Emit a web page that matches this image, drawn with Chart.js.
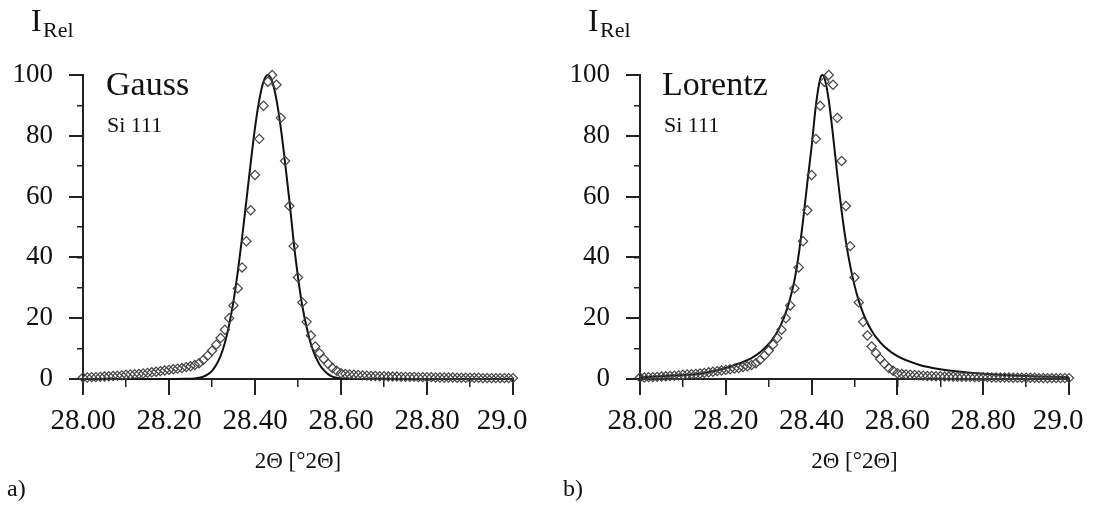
<!DOCTYPE html>
<html>
<head>
<meta charset="utf-8">
<script src="https://cdn.jsdelivr.net/npm/chart.js@4.4.1/dist/chart.umd.min.js"></script>
<style>
  body { margin: 0; background: #fff; }
  #wrap { position: relative; width: 1093px; height: 507px; overflow: hidden; }
  canvas { position: absolute; top: 0; }
  .lbl { position: absolute; font-family: "Liberation Serif", serif; line-height: 1; color: #111; white-space: nowrap; }
</style>
</head>
<body>
<div id="wrap">
  <canvas id="chartA" width="546" height="507" style="left:0"></canvas>
  <canvas id="chartB" width="547" height="507" style="left:546px"></canvas>

  <div class="lbl" style="left:31px;top:4px;font-size:32px">I</div>
  <div class="lbl" style="left:43px;top:19px;font-size:22px">Rel</div>
  <div class="lbl" style="left:106px;top:67px;font-size:34px">Gauss</div>
  <div class="lbl" style="left:107px;top:114px;font-size:22px">Si 111</div>
  <div class="lbl" style="left:7px;top:476px;font-size:24px">a)</div>

  <div class="lbl" style="left:588px;top:4px;font-size:32px">I</div>
  <div class="lbl" style="left:600px;top:19px;font-size:22px">Rel</div>
  <div class="lbl" style="left:662px;top:67px;font-size:34px">Lorentz</div>
  <div class="lbl" style="left:664px;top:114px;font-size:22px">Si 111</div>
  <div class="lbl" style="left:563px;top:476px;font-size:24px">b)</div>
</div>

<script>
// measured Si 111 profile (same in both panels)
const twoTheta = [
  28.00, 28.01, 28.02, 28.03, 28.04, 28.05, 28.06, 28.07, 28.08, 28.09,
  28.10, 28.11, 28.12, 28.13, 28.14, 28.15, 28.16, 28.17, 28.18, 28.19,
  28.20, 28.21, 28.22, 28.23, 28.24, 28.25, 28.26, 28.27, 28.28, 28.29,
  28.30, 28.31, 28.32, 28.33, 28.34, 28.35, 28.36, 28.37, 28.38, 28.39,
  28.40, 28.41, 28.42, 28.43, 28.44, 28.45, 28.46, 28.47, 28.48, 28.49,
  28.50, 28.51, 28.52, 28.53, 28.54, 28.55, 28.56, 28.57, 28.58, 28.59,
  28.60, 28.61, 28.62, 28.63, 28.64, 28.65, 28.66, 28.67, 28.68, 28.69,
  28.70, 28.71, 28.72, 28.73, 28.74, 28.75, 28.76, 28.77, 28.78, 28.79,
  28.80, 28.81, 28.82, 28.83, 28.84, 28.85, 28.86, 28.87, 28.88, 28.89,
  28.90, 28.91, 28.92, 28.93, 28.94, 28.95, 28.96, 28.97, 28.98, 28.99, 29.00
];
const measured = [
  0.5, 0.5, 0.6, 0.6, 0.7, 0.8, 0.9, 1.0, 1.1, 1.2,
  1.4, 1.5, 1.6, 1.7, 1.8, 2.0, 2.2, 2.4, 2.6, 2.8,
  3.0, 3.2, 3.4, 3.6, 3.9, 4.2, 4.6, 5.2, 6.3, 7.7,
  9.3, 11.3, 13.5, 16.2, 20.0, 24.2, 29.8, 36.7, 45.3, 55.5,
  67.1, 79.0, 89.9, 97.8, 100, 96.8, 85.9, 71.7, 56.9, 43.7,
  33.4, 25.2, 18.8, 14.3, 10.7, 8.5, 6.6, 5.0, 3.6, 2.7,
  1.9, 1.7, 1.5, 1.4, 1.3, 1.2, 1.1, 1.0, 1.0, 0.9,
  0.9, 0.8, 0.8, 0.8, 0.7, 0.7, 0.7, 0.7, 0.6, 0.6,
  0.6, 0.6, 0.5, 0.5, 0.5, 0.5, 0.5, 0.4, 0.4, 0.4,
  0.4, 0.4, 0.4, 0.3, 0.3, 0.3, 0.3, 0.3, 0.3, 0.3, 0.3
];

// fitted Gauss curve (panel a)
const gaussX = [
  28.00, 28.10, 28.20, 28.24, 28.26, 28.27, 28.28, 28.29, 28.30, 28.31,
  28.32, 28.33, 28.34, 28.35, 28.36, 28.37, 28.38, 28.39, 28.40, 28.41,
  28.42, 28.43, 28.44, 28.45, 28.46, 28.47, 28.48, 28.49, 28.50, 28.51,
  28.52, 28.53, 28.54, 28.55, 28.56, 28.57, 28.58, 28.59, 28.60, 28.62,
  28.66, 28.70, 28.80, 29.00
];
const gaussY = [
  0, 0, 0, 0.05, 0.2, 0.4, 0.8, 1.5, 2.7, 4.7,
  7.6, 11.9, 17.9, 25.6, 35.3, 46.5, 58.7, 71.1, 82.6, 91.8,
  97.9, 100, 97.9, 91.8, 82.6, 71.1, 58.7, 45, 33.5, 24,
  17, 11.5, 7.6, 4.8, 2.9, 1.6, 0.8, 0.4, 0.2, 0.05,
  0, 0, 0, 0
];

// fitted Lorentz curve (panel b)
const lorentzX = [
  28.00, 28.05, 28.10, 28.15, 28.20, 28.22, 28.24, 28.26, 28.28, 28.30,
  28.31, 28.32, 28.33, 28.34, 28.35, 28.36, 28.37, 28.38, 28.39, 28.40,
  28.41, 28.42, 28.425, 28.43, 28.44, 28.45, 28.46, 28.47, 28.48, 28.49,
  28.50, 28.51, 28.52, 28.53, 28.54, 28.55, 28.57, 28.60, 28.65, 28.70,
  28.80, 28.90, 29.00
];
const lorentzY = [
  0.6, 0.9, 1.3, 2.0, 3.6, 4.6, 5.6, 6.9, 8.8, 11.5,
  13.3, 15.5, 18.3, 21.9, 26.5, 32.4, 41, 52, 64.5, 76.4,
  90.0, 98.8, 100, 99.0, 91.7, 80, 67.1, 55.2, 45.2, 37.2,
  30.8, 25.7, 21.7, 18.5, 15.9, 13.8, 10.6, 7.5, 4.7, 3.2,
  1.7, 1.0, 0.6
];

// last label sits a little left of its tick in the original
const xTickLabels = ["28.00", "28.20", "28.40", "28.60", "28.80", "29.0   "];
const yTickLabels = ["0", "20", "40", "60", "80", "100"];
const xTitle = "2\u0398 [\u00b02\u0398]";

const serif = "'Liberation Serif', serif";

function toPoints(xs, ys) {
  return xs.map((x, i) => ({ x: x, y: ys[i] }));
}

function makeChart(id, fitX, fitY, axisWidth, padRight) {
  return new Chart(document.getElementById(id), {
    type: "scatter",
    data: {
      datasets: [
        {
          data: toPoints(twoTheta, measured),
          xAxisID: "x",
          yAxisID: "y",
          pointStyle: "rectRot",
          pointRadius: 4.6,
          pointBorderWidth: 1.2,
          borderColor: "#444",
          backgroundColor: "rgba(0,0,0,0)",
          showLine: false,
          clip: false,
        },
        {
          data: toPoints(fitX, fitY),
          xAxisID: "x",
          yAxisID: "y",
          showLine: true,
          pointRadius: 0,
          borderColor: "#111",
          borderWidth: 2,
          cubicInterpolationMode: "monotone",
          clip: false,
        },
      ],
    },
    options: {
      responsive: false,
      animation: false,
      events: [],
      layout: { padding: { left: 0, right: padRight, top: 75, bottom: 31 } },
      plugins: { legend: { display: false }, tooltip: { enabled: false } },
      scales: {
        x: {
          type: "linear",
          position: "bottom",
          min: 28,
          max: 29,
          afterFit: (s) => {
            s.height = 97;
            // keep the plot box fixed, labels may overhang
            s.paddingLeft = 0;
            s.paddingRight = 0;
          },
          ticks: {
            stepSize: 0.2,
            autoSkip: false,
            maxRotation: 0,
            padding: 9,
            color: "#111",
            font: { family: serif, size: 29 },
            callback: (v, i) => xTickLabels[i],
          },
          grid: { drawOnChartArea: false, tickLength: 16, color: "#222", lineWidth: 2 },
          border: { color: "#222", width: 2 },
          title: {
            display: true,
            text: xTitle,
            color: "#111",
            font: { family: serif, size: 23 },
            padding: { top: 0, bottom: 0 },
          },
        },
        y: {
          type: "linear",
          position: "left",
          min: 0,
          max: 100,
          afterFit: (s) => {
            s.width = axisWidth;
            s.paddingTop = 0;
            s.paddingBottom = 0;
          },
          ticks: {
            stepSize: 20,
            padding: 16,
            color: "#111",
            font: { family: serif, size: 27 },
            callback: (v, i) => yTickLabels[i],
          },
          grid: { drawOnChartArea: false, tickLength: 14, color: "#222", lineWidth: 2 },
          border: { color: "#222", width: 2 },
        },
        // minor tick marks
        x2: {
          type: "linear",
          position: { y: 0 },
          min: 28,
          max: 29,
          ticks: { stepSize: 0.1, display: false },
          grid: { drawOnChartArea: false, tickLength: 8, color: "#222", lineWidth: 1.5 },
          border: { display: false },
        },
        y2: {
          type: "linear",
          position: { x: 28 },
          min: 0,
          max: 100,
          ticks: { stepSize: 10, display: false },
          grid: { drawOnChartArea: false, tickLength: 6, color: "#222", lineWidth: 1.5 },
          border: { display: false },
        },
      },
    },
  });
}

makeChart("chartA", gaussX, gaussY, 83, 33);
makeChart("chartB", lorentzX, lorentzY, 94, 24);
</script>
</body>
</html>
